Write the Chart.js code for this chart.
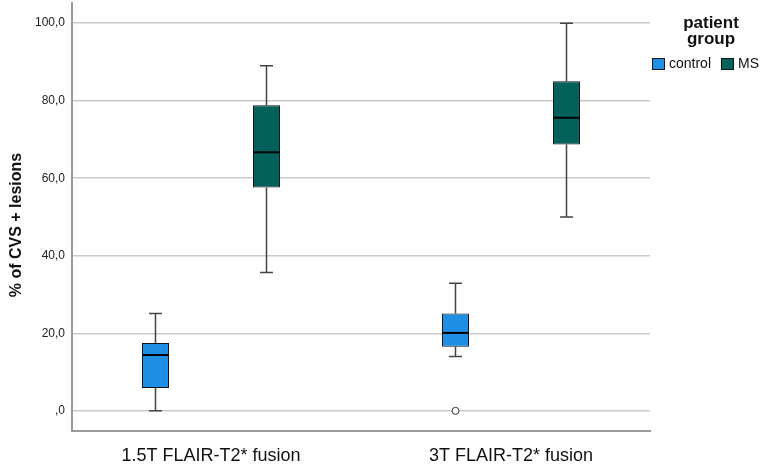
<!DOCTYPE html>
<html>
<head>
<meta charset="utf-8">
<script src="https://cdn.jsdelivr.net/npm/chart.js@4/dist/chart.umd.min.js"></script>
<style>
html,body{margin:0;padding:0;background:#fff;}
#wrap{width:762px;height:474px;}
</style>
</head>
<body>
<div id="wrap"><canvas id="c" width="762" height="474"></canvas></div>
<script>
// ---- data ----
const categories = ['1.5T FLAIR-T2* fusion', '3T FLAIR-T2* fusion'];
const groups = ['control', 'MS'];
const groupColors = ['#1e8fe4', '#03615c'];
const controlMin = [0.0, 14.0];
const controlQ1 = [5.9, 16.5];
const controlMedian = [14.4, 20.1];
const controlQ3 = [17.5, 25.1];
const controlMax = [25.1, 32.9];
const controlOutliers = [[], [0.0]];
const msMin = [35.7, 50.0];
const msQ1 = [57.6, 68.7];
const msMedian = [66.7, 75.6];
const msQ3 = [78.8, 85.0];
const msMax = [89.0, 100.0];
const msOutliers = [[], []];
const yTicks = [0, 20, 40, 60, 80, 100];
const yTitle = '% of CVS + lesions';
const legendTitle = ['patient', 'group'];

const stats = [
  {min: controlMin, q1: controlQ1, med: controlMedian, q3: controlQ3, max: controlMax, out: controlOutliers},
  {min: msMin, q1: msQ1, med: msMedian, q3: msQ3, max: msMax, out: msOutliers}
];

const datasets = groups.map((g, d) => ({
  label: g,
  data: categories.map((c, i) => ({x: i + 1, y: [stats[d].q1[i], stats[d].q3[i]]})),
  backgroundColor: groupColors[d],
  borderColor: '#111',
  borderWidth: 1,
  borderSkipped: false,
  barPercentage: 0.243,
  categoryPercentage: 0.74
}));

const boxPlugin = {
  id: 'boxParts',
  beforeDatasetsDraw(chart) {
    const ctx = chart.ctx, ys = chart.scales.y;
    ctx.save();
    ctx.strokeStyle = '#444';
    ctx.lineWidth = 1.5;
    stats.forEach((s, d) => {
      const meta = chart.getDatasetMeta(d);
      meta.data.forEach((el, i) => {
        const x = el.x, cw = el.width * 0.24;
        const yMin = ys.getPixelForValue(s.min[i]);
        const yMax = ys.getPixelForValue(s.max[i]);
        const yQ1 = ys.getPixelForValue(s.q1[i]);
        const yQ3 = ys.getPixelForValue(s.q3[i]);
        ctx.beginPath();
        ctx.moveTo(x, yQ3); ctx.lineTo(x, yMax);
        ctx.moveTo(x, yQ1); ctx.lineTo(x, yMin);
        ctx.moveTo(x - cw, yMax); ctx.lineTo(x + cw, yMax);
        ctx.moveTo(x - cw, yMin); ctx.lineTo(x + cw, yMin);
        ctx.stroke();
      });
    });
    ctx.restore();
  },
  afterDatasetsDraw(chart) {
    const ctx = chart.ctx, ys = chart.scales.y;
    ctx.save();
    stats.forEach((s, d) => {
      const meta = chart.getDatasetMeta(d);
      meta.data.forEach((el, i) => {
        const x = el.x, hw = el.width / 2;
        const yMed = ys.getPixelForValue(s.med[i]);
        ctx.strokeStyle = '#000';
        ctx.lineWidth = 2;
        ctx.beginPath();
        ctx.moveTo(x - hw, yMed); ctx.lineTo(x + hw, yMed);
        ctx.stroke();
        s.out[i].forEach(v => {
          const yy = ys.getPixelForValue(v);
          ctx.beginPath();
          ctx.arc(x, yy, 3.5, 0, Math.PI * 2);
          ctx.fillStyle = '#fff';
          ctx.fill();
          ctx.strokeStyle = '#333';
          ctx.lineWidth = 1;
          ctx.stroke();
        });
      });
    });
    // y axis title
    ctx.fillStyle = '#111';
    ctx.font = 'bold 16px "Liberation Sans", Arial, sans-serif';
    ctx.textAlign = 'center';
    ctx.textBaseline = 'middle';
    ctx.translate(17, 225);
    ctx.rotate(-Math.PI / 2);
    ctx.fillText(yTitle, 0, 0);
    ctx.restore();

    // legend
    ctx.save();
    ctx.fillStyle = '#111';
    ctx.font = 'bold 17px "Liberation Sans", Arial, sans-serif';
    ctx.textAlign = 'center';
    ctx.textBaseline = 'alphabetic';
    legendTitle.forEach((t, k) => ctx.fillText(t, 711, 28 + k * 16));
    ctx.font = '14px "Liberation Sans", Arial, sans-serif';
    ctx.textAlign = 'left';
    ctx.textBaseline = 'middle';
    let lx = 652;
    chart.data.datasets.forEach((ds) => {
      ctx.fillStyle = ds.backgroundColor;
      ctx.fillRect(lx, 58, 13, 12);
      ctx.strokeStyle = '#111';
      ctx.lineWidth = 1;
      ctx.strokeRect(lx + 0.5, 58.5, 12, 11);
      ctx.fillStyle = '#111';
      ctx.fillText(ds.label, lx + 17, 64.5);
      lx += 17 + ctx.measureText(ds.label).width + 10;
    });
    ctx.restore();
  }
};

function zeroPad(scale) {
  scale.paddingTop = 0; scale.paddingBottom = 0;
  scale.paddingLeft = 0; scale.paddingRight = 0;
}

new Chart(document.getElementById('c'), {
  type: 'bar',
  data: {datasets},
  plugins: [boxPlugin],
  options: {
    responsive: false,
    devicePixelRatio: 1,
    animation: false,
    layout: {padding: {top: 3, right: 112, left: 0, bottom: 0}},
    plugins: {legend: {display: false}, tooltip: {enabled: false}},
    scales: {
      x: {
        type: 'linear',
        min: 0.5367,
        max: 2.4633,
        offset: false,
        grid: {display: false, drawTicks: false},
        border: {display: true, color: '#9a9a9a', width: 2},
        afterBuildTicks: (scale) => { scale.ticks = categories.map((c, i) => ({value: i + 1})); },
        afterFit: (scale) => { scale.height = 43; zeroPad(scale); },
        ticks: {
          autoSkip: false,
          maxRotation: 0,
          padding: 14,
          color: '#111',
          font: {family: '"Liberation Sans", Arial, sans-serif', size: 18},
          callback: (v) => categories[Math.round(v) - 1]
        }
      },
      y: {
        min: -5.2,
        max: 105.2,
        grid: {color: '#c9c9c9', lineWidth: 1.5, drawTicks: false},
        border: {display: true, color: '#9a9a9a', width: 2},
        afterBuildTicks: (scale) => { scale.ticks = yTicks.map(v => ({value: v})); },
        afterFit: (scale) => { scale.width = 72; zeroPad(scale); },
        ticks: {
          padding: 7,
          color: '#222',
          font: {family: '"Liberation Sans", Arial, sans-serif', size: 12},
          callback: (v) => v === 0 ? ',0' : v.toFixed(1).replace('.', ',')
        }
      }
    }
  }
});
</script>
</body>
</html>
